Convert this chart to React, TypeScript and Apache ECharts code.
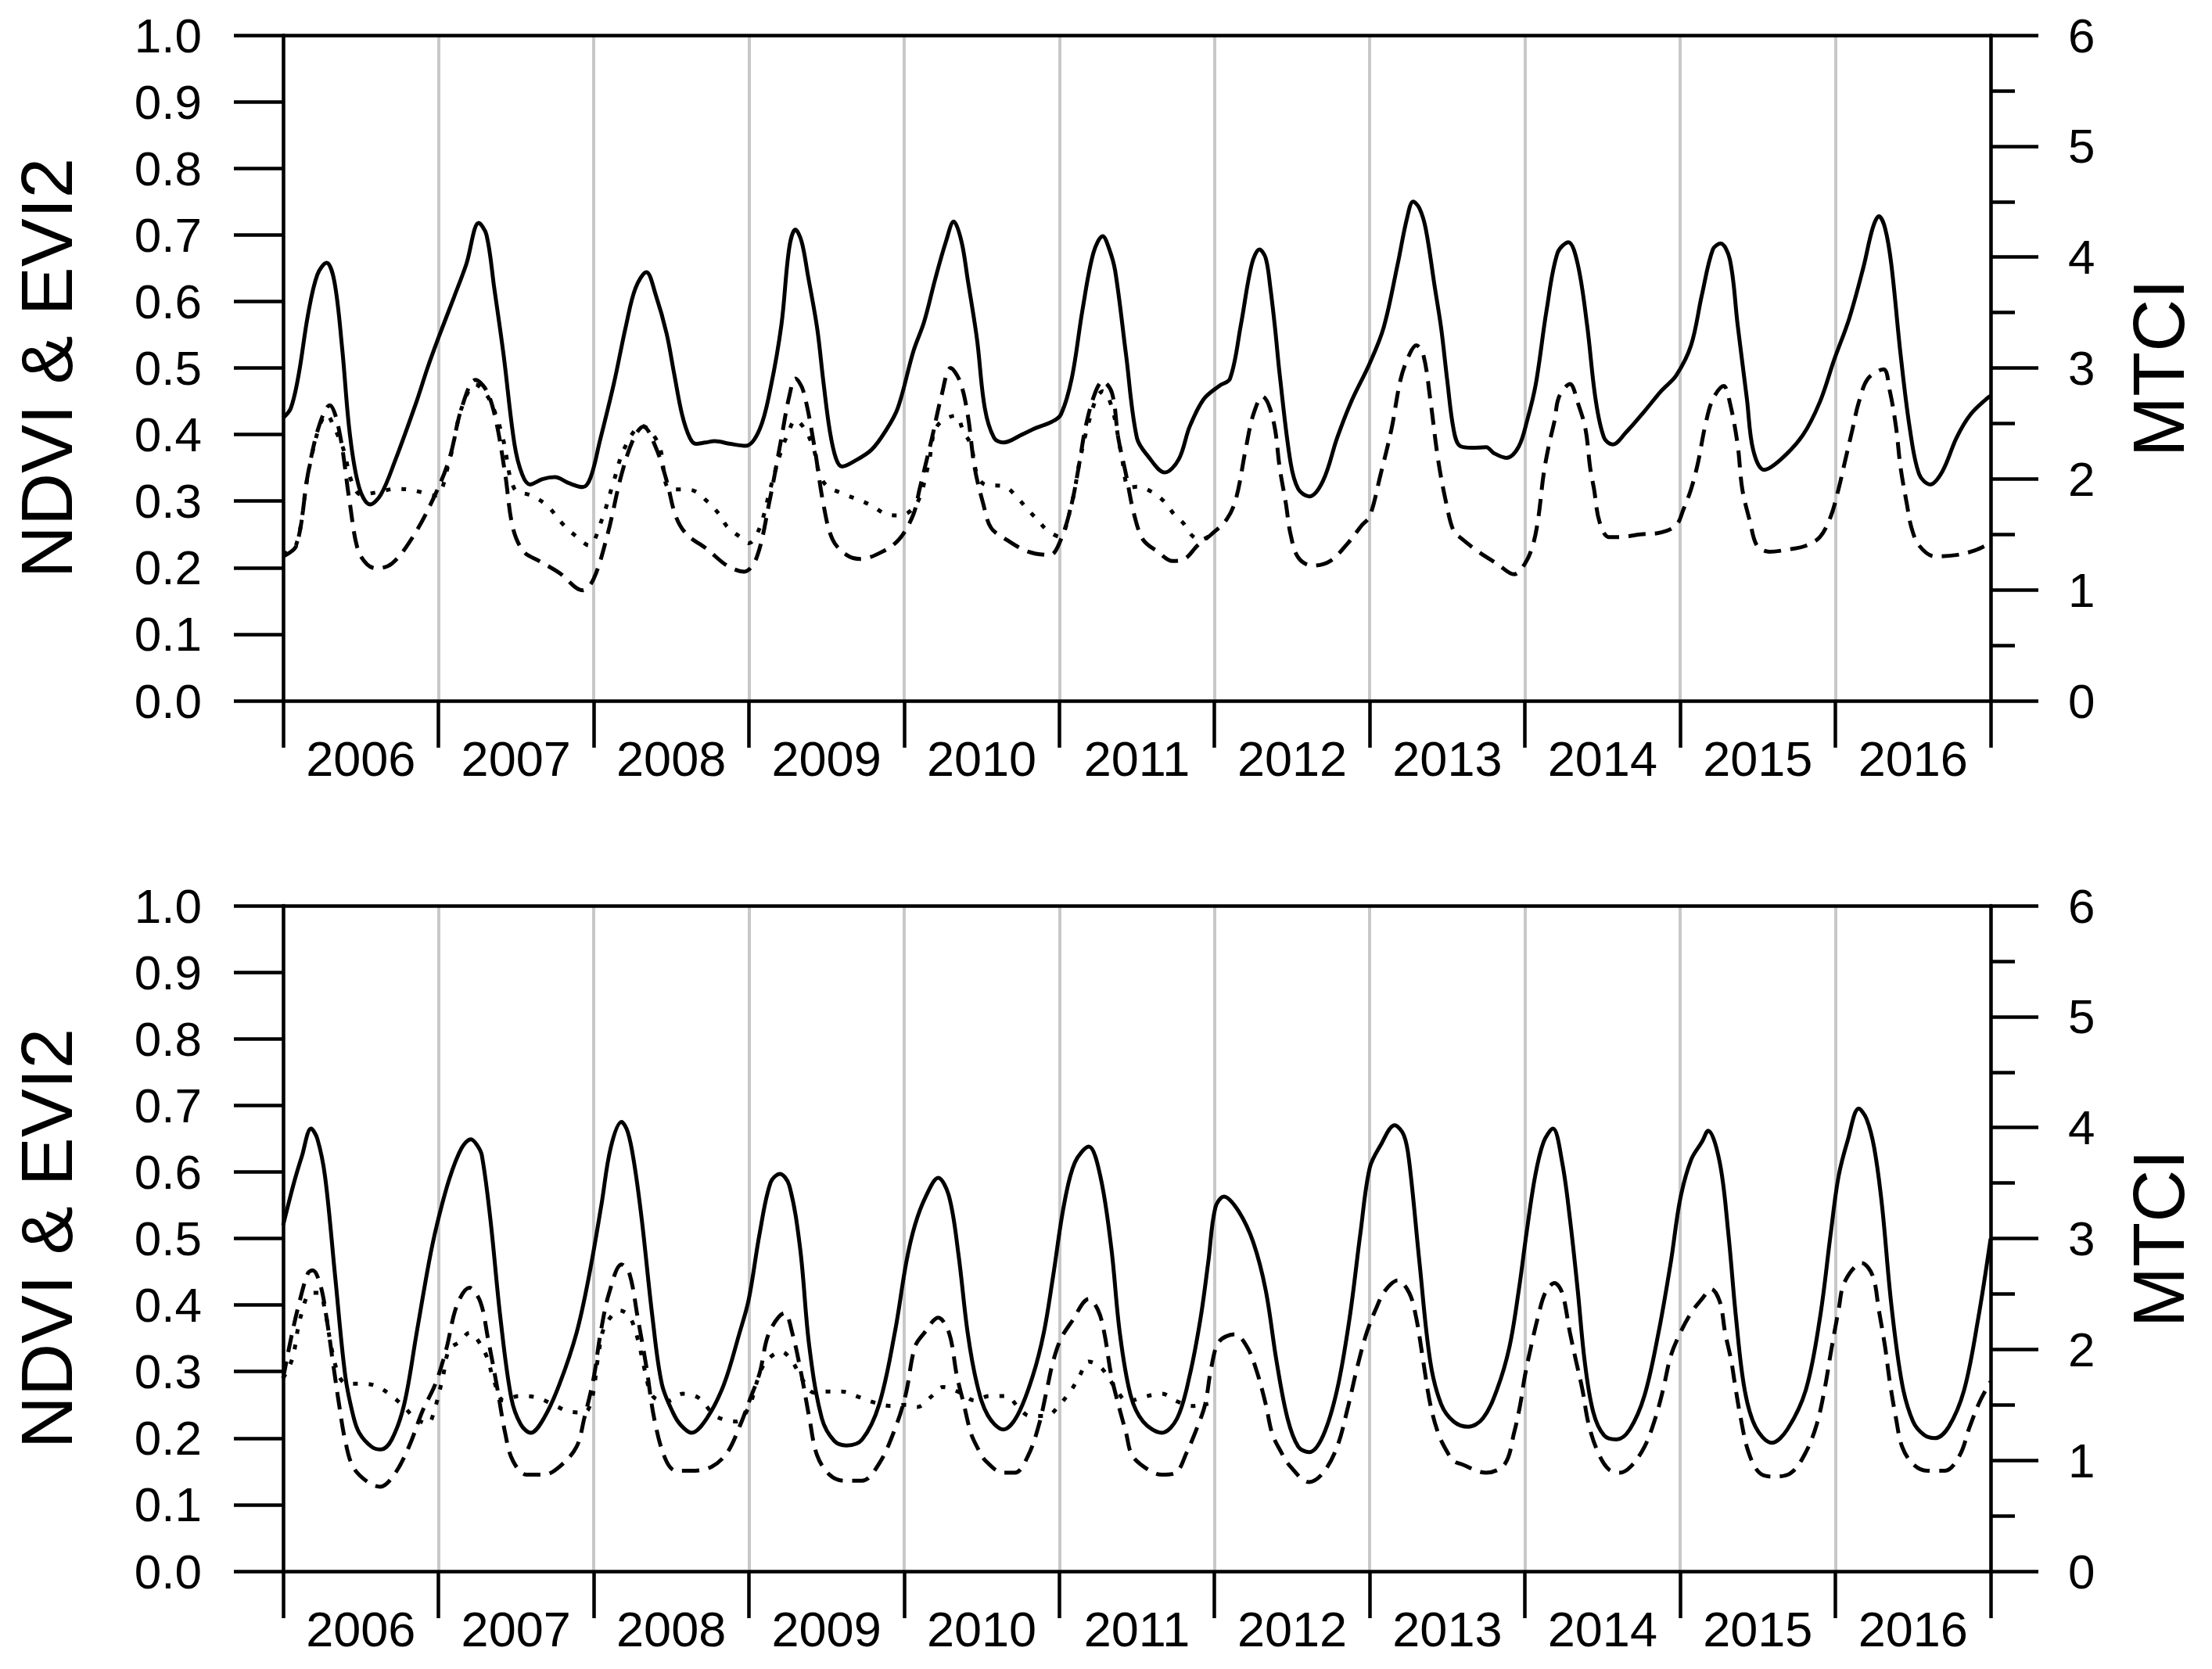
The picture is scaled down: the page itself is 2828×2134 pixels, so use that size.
import React, { useEffect, useRef } from "react";
import * as echarts from "echarts";

const years = ["2006", "2007", "2008", "2009", "2010", "2011", "2012", "2013", "2014", "2015", "2016"];
const leftTicksLabel = "NDVI & EVI2";
const rightTicksLabel = "MTCI";

// Top panel: NDVI (solid, left axis)
const topNdvi: [number, number][] = [
  [2006.0, 0.425], [2006.05, 0.44], [2006.1, 0.49], [2006.16, 0.58], [2006.22, 0.64], [2006.28, 0.658], [2006.33, 0.63], [2006.38, 0.53], [2006.43, 0.4], [2006.49, 0.32], [2006.56, 0.295], [2006.63, 0.31], [2006.72, 0.36], [2006.86, 0.45], [2006.93, 0.5], [2007.0, 0.545], [2007.1, 0.606], [2007.18, 0.656], [2007.26, 0.718], [2007.31, 0.7], [2007.36, 0.62], [2007.42, 0.52], [2007.49, 0.386], [2007.54, 0.34], [2007.59, 0.325], [2007.67, 0.333], [2007.75, 0.336], [2007.84, 0.327], [2007.93, 0.321], [2007.98, 0.335], [2008.04, 0.39], [2008.13, 0.476], [2008.21, 0.565], [2008.27, 0.62], [2008.34, 0.644], [2008.4, 0.61], [2008.47, 0.552], [2008.52, 0.49], [2008.57, 0.43], [2008.62, 0.395], [2008.66, 0.386], [2008.72, 0.388], [2008.78, 0.39], [2008.88, 0.386], [2008.98, 0.383], [2009.07, 0.408], [2009.14, 0.47], [2009.21, 0.565], [2009.26, 0.68], [2009.3, 0.708], [2009.34, 0.69], [2009.38, 0.64], [2009.44, 0.56], [2009.48, 0.48], [2009.52, 0.408], [2009.56, 0.365], [2009.6, 0.352], [2009.68, 0.36], [2009.79, 0.377], [2009.88, 0.405], [2009.96, 0.44], [2010.06, 0.525], [2010.13, 0.57], [2010.2, 0.633], [2010.27, 0.69], [2010.32, 0.72], [2010.37, 0.69], [2010.41, 0.633], [2010.47, 0.543], [2010.52, 0.44], [2010.58, 0.395], [2010.64, 0.388], [2010.76, 0.4], [2010.85, 0.41], [2010.95, 0.419], [2011.01, 0.43], [2011.08, 0.484], [2011.15, 0.588], [2011.22, 0.673], [2011.28, 0.698], [2011.32, 0.68], [2011.36, 0.646], [2011.43, 0.52], [2011.5, 0.395], [2011.57, 0.368], [2011.68, 0.343], [2011.77, 0.363], [2011.84, 0.412], [2011.93, 0.453], [2012.03, 0.473], [2012.1, 0.484], [2012.17, 0.565], [2012.24, 0.656], [2012.29, 0.678], [2012.33, 0.665], [2012.36, 0.62], [2012.39, 0.56], [2012.42, 0.49], [2012.49, 0.358], [2012.54, 0.318], [2012.61, 0.307], [2012.7, 0.331], [2012.79, 0.395], [2012.88, 0.449], [2013.0, 0.507], [2013.09, 0.561], [2013.18, 0.656], [2013.24, 0.725], [2013.28, 0.75], [2013.32, 0.74], [2013.36, 0.71], [2013.42, 0.62], [2013.46, 0.56], [2013.5, 0.48], [2013.54, 0.408], [2013.58, 0.383], [2013.66, 0.38], [2013.75, 0.381], [2013.8, 0.372], [2013.88, 0.365], [2013.96, 0.382], [2014.015, 0.422], [2014.07, 0.476], [2014.14, 0.588], [2014.21, 0.673], [2014.28, 0.689], [2014.34, 0.656], [2014.4, 0.565], [2014.455, 0.453], [2014.51, 0.395], [2014.565, 0.385], [2014.65, 0.403], [2014.77, 0.435], [2014.88, 0.466], [2014.975, 0.489], [2015.07, 0.534], [2015.14, 0.61], [2015.21, 0.678], [2015.26, 0.687], [2015.32, 0.663], [2015.37, 0.565], [2015.43, 0.453], [2015.47, 0.377], [2015.54, 0.347], [2015.65, 0.363], [2015.79, 0.399], [2015.9, 0.449], [2015.99, 0.511], [2016.09, 0.575], [2016.18, 0.651], [2016.24, 0.71], [2016.28, 0.728], [2016.32, 0.71], [2016.36, 0.656], [2016.42, 0.52], [2016.48, 0.408], [2016.54, 0.34], [2016.61, 0.325], [2016.69, 0.345], [2016.78, 0.395], [2016.87, 0.43], [2016.98, 0.455], [2017.0, 0.458],
];

// Top panel: EVI2 (dashed, left axis)
const topEvi2: [number, number][] = [
  [2006.0, 0.217], [2006.085, 0.233], [2006.16, 0.341], [2006.23, 0.412], [2006.3, 0.444], [2006.36, 0.407], [2006.43, 0.296], [2006.48, 0.228], [2006.54, 0.205], [2006.6, 0.199], [2006.7, 0.206], [2006.835, 0.246], [2006.97, 0.305], [2007.07, 0.363], [2007.15, 0.44], [2007.24, 0.482], [2007.31, 0.466], [2007.37, 0.422], [2007.43, 0.341], [2007.48, 0.26], [2007.55, 0.224], [2007.65, 0.21], [2007.78, 0.192], [2007.93, 0.166], [2008.0, 0.183], [2008.09, 0.25], [2008.18, 0.34], [2008.26, 0.395], [2008.32, 0.412], [2008.4, 0.381], [2008.47, 0.331], [2008.53, 0.277], [2008.6, 0.25], [2008.73, 0.228], [2008.86, 0.203], [2008.97, 0.194], [2009.05, 0.215], [2009.13, 0.296], [2009.21, 0.395], [2009.26, 0.457], [2009.3, 0.484], [2009.35, 0.466], [2009.42, 0.385], [2009.48, 0.296], [2009.54, 0.242], [2009.63, 0.219], [2009.72, 0.213], [2009.86, 0.224], [2009.97, 0.243], [2010.06, 0.28], [2010.1, 0.318], [2010.18, 0.395], [2010.24, 0.457], [2010.3, 0.5], [2010.36, 0.48], [2010.41, 0.43], [2010.455, 0.35], [2010.51, 0.296], [2010.56, 0.26], [2010.66, 0.242], [2010.8, 0.224], [2010.94, 0.219], [2011.01, 0.242], [2011.08, 0.296], [2011.13, 0.358], [2011.17, 0.412], [2011.23, 0.462], [2011.28, 0.48], [2011.34, 0.462], [2011.38, 0.395], [2011.43, 0.34], [2011.48, 0.282], [2011.54, 0.242], [2011.635, 0.224], [2011.73, 0.21], [2011.8, 0.212], [2011.89, 0.233], [2011.98, 0.25], [2012.08, 0.273], [2012.14, 0.305], [2012.2, 0.377], [2012.25, 0.43], [2012.31, 0.457], [2012.35, 0.444], [2012.39, 0.408], [2012.42, 0.35], [2012.46, 0.296], [2012.49, 0.25], [2012.54, 0.215], [2012.63, 0.203], [2012.745, 0.21], [2012.86, 0.237], [2012.95, 0.264], [2013.0, 0.277], [2013.07, 0.34], [2013.14, 0.408], [2013.2, 0.484], [2013.255, 0.52], [2013.3, 0.534], [2013.345, 0.52], [2013.39, 0.453], [2013.44, 0.363], [2013.49, 0.3], [2013.54, 0.255], [2013.59, 0.244], [2013.7, 0.224], [2013.82, 0.206], [2013.93, 0.19], [2014.0, 0.206], [2014.05, 0.233], [2014.085, 0.273], [2014.12, 0.34], [2014.155, 0.385], [2014.19, 0.42], [2014.22, 0.457], [2014.29, 0.476], [2014.34, 0.448], [2014.39, 0.408], [2014.42, 0.35], [2014.445, 0.318], [2014.48, 0.269], [2014.54, 0.246], [2014.61, 0.246], [2014.745, 0.25], [2014.88, 0.253], [2014.975, 0.264], [2015.02, 0.287], [2015.07, 0.318], [2015.115, 0.358], [2015.16, 0.412], [2015.21, 0.453], [2015.28, 0.473], [2015.32, 0.448], [2015.37, 0.385], [2015.4, 0.318], [2015.45, 0.269], [2015.495, 0.233], [2015.575, 0.224], [2015.715, 0.228], [2015.81, 0.233], [2015.9, 0.246], [2015.97, 0.277], [2016.02, 0.318], [2016.06, 0.358], [2016.11, 0.408], [2016.15, 0.448], [2016.21, 0.484], [2016.31, 0.498], [2016.35, 0.466], [2016.39, 0.412], [2016.42, 0.35], [2016.46, 0.296], [2016.49, 0.26], [2016.54, 0.233], [2016.64, 0.217], [2016.78, 0.219], [2016.9, 0.226], [2017.0, 0.237],
];

// Top panel: MTCI (dotted, right axis)
const topMtci: [number, number][] = [
  [2006.0, 1.32], [2006.085, 1.41], [2006.16, 2.04], [2006.23, 2.46], [2006.28, 2.58], [2006.33, 2.46], [2006.39, 2.26], [2006.44, 1.98], [2006.5, 1.86], [2006.61, 1.88], [2006.72, 1.91], [2006.83, 1.9], [2006.98, 1.85], [2007.07, 2.16], [2007.15, 2.64], [2007.24, 2.85], [2007.31, 2.76], [2007.37, 2.58], [2007.42, 2.34], [2007.49, 1.91], [2007.6, 1.85], [2007.7, 1.76], [2007.81, 1.58], [2007.89, 1.48], [2007.97, 1.4], [2008.05, 1.62], [2008.13, 1.98], [2008.2, 2.28], [2008.31, 2.48], [2008.42, 2.31], [2008.49, 1.91], [2008.63, 1.9], [2008.73, 1.8], [2008.81, 1.68], [2008.86, 1.57], [2008.94, 1.48], [2009.0, 1.42], [2009.07, 1.56], [2009.14, 1.92], [2009.21, 2.26], [2009.25, 2.4], [2009.3, 2.53], [2009.36, 2.45], [2009.42, 2.26], [2009.45, 2.07], [2009.5, 1.94], [2009.6, 1.87], [2009.71, 1.81], [2009.79, 1.76], [2009.89, 1.68], [2009.97, 1.67], [2010.04, 1.71], [2010.1, 1.83], [2010.16, 2.15], [2010.21, 2.47], [2010.33, 2.57], [2010.385, 2.42], [2010.43, 2.31], [2010.47, 2.04], [2010.52, 1.95], [2010.65, 1.93], [2010.73, 1.83], [2010.8, 1.72], [2010.86, 1.63], [2010.92, 1.54], [2011.0, 1.48], [2011.08, 1.78], [2011.13, 2.15], [2011.18, 2.46], [2011.24, 2.73], [2011.28, 2.79], [2011.34, 2.64], [2011.4, 2.22], [2011.45, 1.92], [2011.5, 1.93], [2011.6, 1.88], [2011.68, 1.79], [2011.74, 1.68], [2011.8, 1.6], [2011.855, 1.49], [2011.91, 1.45], [2011.96, 1.48],
];

// Bottom panel: NDVI (solid, left axis)
const bottomNdvi: [number, number][] = [
  [2006.0, 0.52], [2006.07, 0.584], [2006.12, 0.623], [2006.18, 0.665], [2006.22, 0.65], [2006.27, 0.593], [2006.335, 0.443], [2006.4, 0.294], [2006.45, 0.235], [2006.49, 0.208], [2006.57, 0.187], [2006.63, 0.183], [2006.7, 0.198], [2006.78, 0.251], [2006.86, 0.358], [2006.94, 0.465], [2006.99, 0.52], [2007.07, 0.589], [2007.15, 0.636], [2007.21, 0.649], [2007.25, 0.64], [2007.28, 0.625], [2007.335, 0.529], [2007.4, 0.38], [2007.47, 0.26], [2007.53, 0.221], [2007.595, 0.208], [2007.68, 0.23], [2007.78, 0.281], [2007.89, 0.358], [2007.97, 0.443], [2008.05, 0.55], [2008.11, 0.636], [2008.18, 0.675], [2008.22, 0.66], [2008.26, 0.615], [2008.31, 0.529], [2008.38, 0.38], [2008.44, 0.281], [2008.51, 0.239], [2008.56, 0.22], [2008.63, 0.208], [2008.73, 0.23], [2008.84, 0.281], [2008.94, 0.358], [2009.0, 0.409], [2009.07, 0.508], [2009.14, 0.584], [2009.2, 0.597], [2009.26, 0.58], [2009.33, 0.486], [2009.39, 0.337], [2009.47, 0.23], [2009.55, 0.196], [2009.63, 0.189], [2009.73, 0.198], [2009.84, 0.251], [2009.94, 0.358], [2010.015, 0.465], [2010.07, 0.52], [2010.14, 0.563], [2010.22, 0.591], [2010.29, 0.563], [2010.35, 0.477], [2010.41, 0.358], [2010.47, 0.281], [2010.54, 0.234], [2010.64, 0.213], [2010.73, 0.234], [2010.83, 0.294], [2010.9, 0.358], [2010.96, 0.443], [2011.03, 0.55], [2011.1, 0.614], [2011.19, 0.638], [2011.265, 0.593], [2011.335, 0.486], [2011.39, 0.358], [2011.46, 0.264], [2011.54, 0.225], [2011.66, 0.208], [2011.76, 0.23], [2011.84, 0.294], [2011.91, 0.38], [2011.96, 0.465], [2012.005, 0.546], [2012.06, 0.563], [2012.155, 0.541], [2012.25, 0.494], [2012.33, 0.422], [2012.4, 0.315], [2012.47, 0.23], [2012.54, 0.187], [2012.61, 0.179], [2012.7, 0.204], [2012.79, 0.273], [2012.87, 0.38], [2012.94, 0.508], [2013.0, 0.606], [2013.07, 0.64], [2013.16, 0.67], [2013.22, 0.655], [2013.255, 0.614], [2013.32, 0.465], [2013.39, 0.315], [2013.46, 0.251], [2013.54, 0.225], [2013.635, 0.217], [2013.73, 0.23], [2013.82, 0.273], [2013.9, 0.337], [2013.96, 0.422], [2014.01, 0.508], [2014.065, 0.593], [2014.12, 0.645], [2014.18, 0.665], [2014.24, 0.614], [2014.29, 0.529], [2014.34, 0.422], [2014.385, 0.315], [2014.44, 0.239], [2014.51, 0.204], [2014.59, 0.198], [2014.675, 0.213], [2014.77, 0.264], [2014.86, 0.358], [2014.94, 0.465], [2015.0, 0.559], [2015.07, 0.618], [2015.14, 0.645], [2015.18, 0.662], [2015.255, 0.614], [2015.31, 0.508], [2015.36, 0.38], [2015.415, 0.273], [2015.485, 0.217], [2015.59, 0.193], [2015.69, 0.213], [2015.81, 0.273], [2015.9, 0.38], [2015.97, 0.508], [2016.02, 0.593], [2016.08, 0.648], [2016.15, 0.695], [2016.2, 0.68], [2016.25, 0.636], [2016.3, 0.55], [2016.36, 0.401], [2016.43, 0.281], [2016.5, 0.225], [2016.57, 0.205], [2016.64, 0.2], [2016.73, 0.217], [2016.83, 0.273], [2016.92, 0.38], [2017.0, 0.5],
];

// Bottom panel: EVI2 (dashed, left axis)
const bottomEvi2: [number, number][] = [
  [2006.0, 0.29], [2006.05, 0.349], [2006.1, 0.4], [2006.16, 0.448], [2006.19, 0.452], [2006.24, 0.43], [2006.28, 0.38], [2006.32, 0.315], [2006.36, 0.251], [2006.4, 0.196], [2006.45, 0.157], [2006.545, 0.134], [2006.625, 0.127], [2006.715, 0.145], [2006.81, 0.187], [2006.9, 0.242], [2006.98, 0.281], [2007.05, 0.333], [2007.12, 0.4], [2007.2, 0.426], [2007.27, 0.405], [2007.32, 0.349], [2007.375, 0.281], [2007.43, 0.208], [2007.48, 0.166], [2007.57, 0.145], [2007.68, 0.145], [2007.78, 0.157], [2007.89, 0.187], [2007.94, 0.23], [2008.0, 0.29], [2008.045, 0.358], [2008.1, 0.418], [2008.18, 0.461], [2008.23, 0.448], [2008.285, 0.38], [2008.34, 0.307], [2008.39, 0.23], [2008.46, 0.17], [2008.53, 0.151], [2008.63, 0.151], [2008.76, 0.157], [2008.86, 0.178], [2008.94, 0.217], [2009.01, 0.26], [2009.07, 0.298], [2009.13, 0.358], [2009.23, 0.388], [2009.28, 0.358], [2009.34, 0.294], [2009.39, 0.23], [2009.44, 0.174], [2009.52, 0.145], [2009.615, 0.136], [2009.73, 0.136], [2009.84, 0.162], [2009.94, 0.213], [2010.01, 0.265], [2010.07, 0.337], [2010.13, 0.358], [2010.22, 0.381], [2010.29, 0.358], [2010.34, 0.294], [2010.385, 0.251], [2010.43, 0.208], [2010.47, 0.187], [2010.525, 0.166], [2010.64, 0.148], [2010.715, 0.148], [2010.8, 0.174], [2010.87, 0.221], [2010.92, 0.273], [2010.96, 0.315], [2011.01, 0.349], [2011.08, 0.375], [2011.19, 0.409], [2011.25, 0.392], [2011.29, 0.358], [2011.335, 0.294], [2011.38, 0.251], [2011.43, 0.208], [2011.47, 0.174], [2011.57, 0.153], [2011.66, 0.145], [2011.75, 0.148], [2011.82, 0.178], [2011.89, 0.217], [2011.94, 0.251], [2011.98, 0.307], [2012.03, 0.345], [2012.13, 0.356], [2012.21, 0.337], [2012.27, 0.302], [2012.33, 0.251], [2012.37, 0.208], [2012.42, 0.183], [2012.49, 0.157], [2012.61, 0.134], [2012.7, 0.148], [2012.79, 0.187], [2012.86, 0.247], [2012.92, 0.307], [2012.98, 0.358], [2013.045, 0.397], [2013.1, 0.422], [2013.18, 0.437], [2013.255, 0.418], [2013.3, 0.38], [2013.345, 0.315], [2013.39, 0.251], [2013.44, 0.208], [2013.49, 0.183], [2013.54, 0.166], [2013.59, 0.161], [2013.75, 0.148], [2013.87, 0.161], [2013.93, 0.208], [2013.97, 0.251], [2014.0, 0.294], [2014.05, 0.349], [2014.085, 0.383], [2014.13, 0.418], [2014.19, 0.433], [2014.24, 0.418], [2014.29, 0.358], [2014.33, 0.315], [2014.37, 0.273], [2014.41, 0.221], [2014.47, 0.179], [2014.54, 0.153], [2014.61, 0.148], [2014.68, 0.157], [2014.77, 0.187], [2014.84, 0.23], [2014.89, 0.273], [2014.94, 0.324], [2015.0, 0.358], [2015.07, 0.388], [2015.14, 0.409], [2015.2, 0.424], [2015.255, 0.405], [2015.29, 0.358], [2015.33, 0.315], [2015.35, 0.285], [2015.39, 0.23], [2015.44, 0.179], [2015.51, 0.148], [2015.6, 0.142], [2015.715, 0.148], [2015.81, 0.179], [2015.88, 0.221], [2015.93, 0.273], [2015.97, 0.328], [2016.02, 0.392], [2016.06, 0.435], [2016.17, 0.463], [2016.24, 0.444], [2016.28, 0.392], [2016.32, 0.337], [2016.35, 0.285], [2016.39, 0.23], [2016.43, 0.187], [2016.5, 0.161], [2016.59, 0.151], [2016.705, 0.151], [2016.8, 0.174], [2016.865, 0.217], [2016.93, 0.255], [2017.0, 0.285],
];

// Bottom panel: MTCI (dotted, right axis)
const bottomMtci: [number, number][] = [
  [2006.0, 1.74], [2006.06, 1.92], [2006.11, 2.28], [2006.18, 2.51], [2006.23, 2.51], [2006.27, 2.35], [2006.31, 2.02], [2006.36, 1.76], [2006.41, 1.69], [2006.51, 1.69], [2006.6, 1.67], [2006.7, 1.58], [2006.78, 1.48], [2006.85, 1.38], [2006.93, 1.33], [2006.98, 1.48], [2007.03, 1.76], [2007.07, 2.0], [2007.14, 2.07], [2007.2, 2.15], [2007.25, 2.09], [2007.31, 1.94], [2007.36, 1.71], [2007.42, 1.54], [2007.52, 1.58], [2007.625, 1.57], [2007.73, 1.51], [2007.84, 1.44], [2007.94, 1.43], [2007.99, 1.56], [2008.03, 1.94], [2008.07, 2.2], [2008.17, 2.35], [2008.23, 2.3], [2008.285, 2.09], [2008.33, 1.81], [2008.38, 1.58], [2008.47, 1.53], [2008.575, 1.6], [2008.68, 1.56], [2008.785, 1.4], [2008.92, 1.35], [2009.0, 1.48], [2009.06, 1.74], [2009.11, 1.89], [2009.21, 1.98], [2009.28, 1.89], [2009.34, 1.74], [2009.42, 1.61], [2009.5, 1.62], [2009.6, 1.62], [2009.71, 1.57], [2009.81, 1.52], [2009.92, 1.49], [2010.01, 1.5], [2010.085, 1.48], [2010.18, 1.58], [2010.25, 1.66], [2010.36, 1.61], [2010.455, 1.54], [2010.55, 1.58], [2010.66, 1.58], [2010.735, 1.48], [2010.81, 1.4], [2010.92, 1.4], [2010.99, 1.48], [2011.08, 1.64], [2011.13, 1.76], [2011.19, 1.89], [2011.265, 1.84], [2011.32, 1.74], [2011.38, 1.61], [2011.44, 1.53], [2011.54, 1.57], [2011.66, 1.6], [2011.76, 1.53], [2011.855, 1.49], [2011.96, 1.51],
];

const FONT = "'Liberation Sans', Arial, sans-serif";
const GRID_LEFT = 362;
const GRID_WIDTH = 2183;
const GRID_HEIGHT = 851;
const GRID_TOPS = [45, 1158];
const AXIS_W = 4.5;
const LINE_W = 5;

function App() {
  const ref = useRef<HTMLDivElement>(null);

  useEffect(() => {
    if (!ref.current) return;
    const chart = echarts.init(ref.current, undefined, { renderer: "svg" });

    const xAxes: any[] = [];
    const yAxes: any[] = [];
    const series: any[] = [];

    const panels = [
      { ndvi: topNdvi, evi2: topEvi2, mtci: topMtci },
      { ndvi: bottomNdvi, evi2: bottomEvi2, mtci: bottomMtci },
    ];

    panels.forEach((p, gi) => {
      const xBase = xAxes.length;
      xAxes.push({
        type: "category",
        gridIndex: gi,
        data: years,
        boundaryGap: true,
        position: "bottom",
        axisLine: { show: true, lineStyle: { color: "#000", width: AXIS_W } },
        axisTick: { show: true, length: 60, inside: false, alignWithLabel: false, lineStyle: { color: "#000", width: AXIS_W } },
        axisLabel: { show: true, color: "#000", fontSize: 63, fontFamily: FONT, margin: 42, interval: 0 },
        splitLine: { show: true, lineStyle: { color: "#c8c8c8", width: 4 } },
        z: 1,
      });
      xAxes.push({
        type: "value",
        gridIndex: gi,
        min: 2006,
        max: 2017,
        show: false,
      });
      xAxes.push({
        type: "value",
        gridIndex: gi,
        min: 2006,
        max: 2017,
        position: "top",
        axisLine: { show: true, lineStyle: { color: "#000", width: AXIS_W } },
        axisTick: { show: false },
        axisLabel: { show: false },
        splitLine: { show: false },
        z: 5,
      });
      const yBase = yAxes.length;
      yAxes.push({
        type: "value",
        gridIndex: gi,
        position: "left",
        min: 0,
        max: 1,
        interval: 0.1,
        name: leftTicksLabel,
        nameLocation: "middle",
        nameRotate: 90,
        nameGap: 256,
        nameTextStyle: { color: "#000", fontSize: 93, fontFamily: FONT },
        axisLine: { show: true, lineStyle: { color: "#000", width: AXIS_W } },
        axisTick: { show: true, length: 63, inside: false, lineStyle: { color: "#000", width: AXIS_W } },
        axisLabel: {
          show: true,
          color: "#000",
          fontSize: 62,
          fontFamily: FONT,
          margin: 104,
          formatter: (v: number) => v.toFixed(1),
        },
        splitLine: { show: false },
        z: 5,
      });
      yAxes.push({
        type: "value",
        gridIndex: gi,
        position: "right",
        min: 0,
        max: 6,
        interval: 1,
        name: rightTicksLabel,
        nameLocation: "middle",
        nameRotate: 90,
        nameGap: 168,
        nameTextStyle: { color: "#000", fontSize: 93, fontFamily: FONT },
        axisLine: { show: true, lineStyle: { color: "#000", width: AXIS_W } },
        axisTick: { show: true, length: 61, inside: false, lineStyle: { color: "#000", width: AXIS_W } },
        minorTick: { show: true, splitNumber: 2, length: 31, lineStyle: { color: "#000", width: AXIS_W } },
        axisLabel: { show: true, color: "#000", fontSize: 62, fontFamily: FONT, margin: 99 },
        splitLine: { show: false },
        z: 5,
      });

      const common = {
        type: "line",
        xAxisIndex: xBase + 1,
        showSymbol: false,
        symbol: "none",
        smooth: 0.35,
        silent: true,
        z: 3,
      };
      series.push({
        ...common,
        name: "NDVI",
        yAxisIndex: yBase,
        data: p.ndvi,
        lineStyle: { color: "#000", width: LINE_W, type: "solid" },
      });
      series.push({
        ...common,
        name: "EVI2",
        yAxisIndex: yBase,
        data: p.evi2,
        lineStyle: { color: "#000", width: LINE_W, type: [22, 12] },
      });
      series.push({
        ...common,
        name: "MTCI",
        yAxisIndex: yBase + 1,
        data: p.mtci,
        lineStyle: { color: "#000", width: LINE_W, type: [6, 14] },
      });
    });

    chart.setOption({
      animation: false,
      backgroundColor: "#fff",
      textStyle: { fontFamily: FONT },
      grid: GRID_TOPS.map((t) => ({ left: GRID_LEFT, width: GRID_WIDTH, top: t, height: GRID_HEIGHT, containLabel: false })),
      xAxis: xAxes,
      yAxis: yAxes,
      series,
    });

    return () => chart.dispose();
  }, []);

  return (
    <div
      ref={ref}
      style={{ position: "absolute", left: 0, top: 0, width: 2828, height: 2134, background: "#fff" }}
    />
  );
}

export default App;
